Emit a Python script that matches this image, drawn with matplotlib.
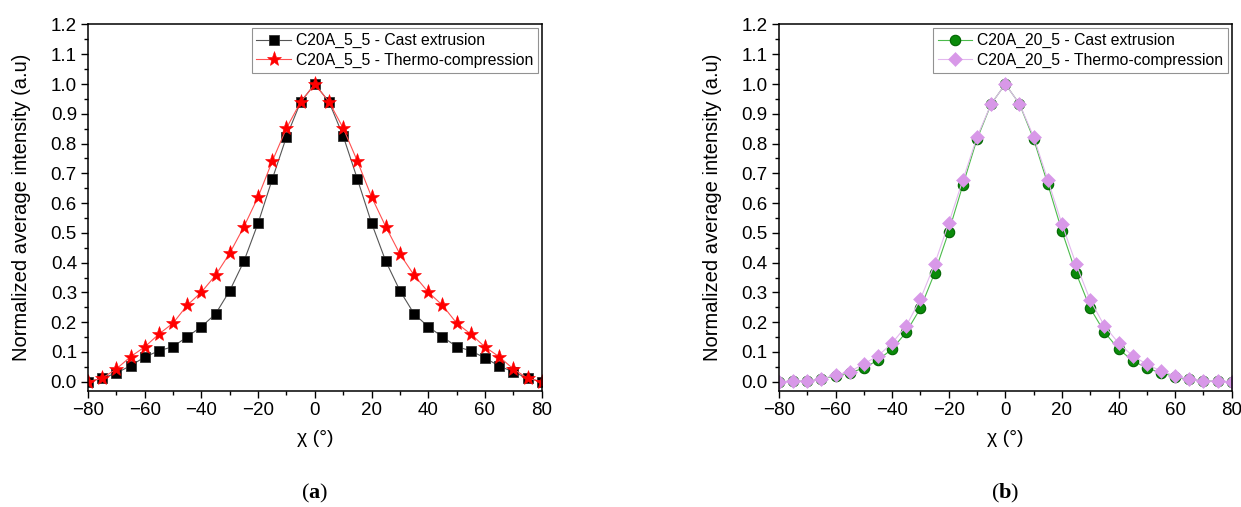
import matplotlib
matplotlib.use('Agg')
import matplotlib.pyplot as plt
import matplotlib.ticker as tck
import numpy as np

plt.rcParams['font.family'] = ['Liberation Sans', 'DejaVu Sans']
plt.rcParams['mathtext.fontset'] = 'custom'
plt.rcParams['mathtext.bf'] = 'Liberation Serif:bold'
plt.rcParams['mathtext.rm'] = 'Liberation Serif'

chi = [-80, -75, -70, -65, -60, -55, -50, -45, -40, -35, -30, -25, -20, -15, -10, -5,
       0, 5, 10, 15, 20, 25, 30, 35, 40, 45, 50, 55, 60, 65, 70, 75, 80]

# panel (a)
cast_5_5 = [0.0, 0.012, 0.029, 0.054, 0.083, 0.104, 0.118, 0.151, 0.185, 0.228, 0.306,
            0.405, 0.533, 0.681, 0.823, 0.94, 1.0, 0.94, 0.825, 0.681, 0.533, 0.405,
            0.306, 0.228, 0.185, 0.151, 0.118, 0.104, 0.08, 0.053, 0.033, 0.012, 0.0]
thermo_5_5 = [0.0, 0.012, 0.043, 0.084, 0.117, 0.16, 0.197, 0.257, 0.301, 0.358, 0.432,
              0.521, 0.621, 0.741, 0.852, 0.94, 1.0, 0.94, 0.852, 0.741, 0.621, 0.521,
              0.429, 0.358, 0.301, 0.257, 0.197, 0.16, 0.117, 0.084, 0.043, 0.012, 0.0]

# panel (b)
cast_20_5 = [0.0, 0.002, 0.002, 0.009, 0.02, 0.03, 0.046, 0.073, 0.11, 0.167, 0.247,
             0.365, 0.504, 0.661, 0.815, 0.933, 1.0, 0.933, 0.815, 0.664, 0.506, 0.365,
             0.247, 0.167, 0.11, 0.071, 0.046, 0.03, 0.017, 0.008, 0.003, 0.002, 0.0]
thermo_20_5 = [0.0, 0.002, 0.002, 0.009, 0.023, 0.034, 0.06, 0.087, 0.13, 0.188, 0.278,
               0.395, 0.533, 0.678, 0.822, 0.933, 1.0, 0.933, 0.823, 0.678, 0.53, 0.395,
               0.274, 0.188, 0.13, 0.087, 0.059, 0.036, 0.02, 0.009, 0.002, 0.003, 0.0]

fig = plt.figure(figsize=(12.41, 5.07), dpi=100)
ax1 = fig.add_axes([0.0709, 0.2294, 0.3656, 0.7223])
ax2 = fig.add_axes([0.6277, 0.2294, 0.3648, 0.7223])

ax1.plot(chi, cast_5_5, color='#555555', linewidth=0.8, marker='s', markersize=7.5,
         markerfacecolor='black', markeredgecolor='#333333', markeredgewidth=0.6,
         label='C20A_5_5 - Cast extrusion')
ax1.plot(chi, thermo_5_5, color='#ff5050', linewidth=0.8, marker='*', markersize=11,
         markerfacecolor='red', markeredgecolor='red', markeredgewidth=0.4,
         label='C20A_5_5 - Thermo-compression')

ax2.plot(chi, cast_20_5, color='#4cbb4c', linewidth=0.8, marker='o', markersize=7.5,
         markerfacecolor='#0a8a0a', markeredgecolor='#006400', markeredgewidth=0.8,
         label='C20A_20_5 - Cast extrusion')
ax2.plot(chi, thermo_20_5, color='#e3b8ee', linewidth=0.8, marker='D', markersize=7.5,
         markerfacecolor='#d898e8', markeredgecolor='#d898e8', markeredgewidth=0.4,
         label='C20A_20_5 - Thermo-compression')

for ax, tag in [(ax1, 'a'), (ax2, 'b')]:
    ax.set_xlim(-80, 80)
    ax.set_ylim(-0.03, 1.2)
    ax.xaxis.set_major_locator(tck.MultipleLocator(20))
    ax.xaxis.set_minor_locator(tck.MultipleLocator(10))
    ax.yaxis.set_major_locator(tck.MultipleLocator(0.1))
    ax.yaxis.set_minor_locator(tck.MultipleLocator(0.05))
    ax.yaxis.set_major_formatter(tck.FormatStrFormatter('%.1f'))
    ax.xaxis.set_major_formatter(tck.FuncFormatter(
        lambda v, p: ('\u2212%d' % -v) if v < 0 else '%d' % v))
    ax.tick_params(which='major', direction='out', length=5, width=1.0,
                   labelsize=13.5, pad=3, top=False, right=False)
    ax.tick_params(which='minor', direction='out', length=3, width=1.0,
                   top=False, right=False)
    for s in ax.spines.values():
        s.set_linewidth(1.1)
    ax.set_xlabel('\u03c7 (\u00b0)', fontsize=14, labelpad=8)
    ax.set_ylabel('Normalized average intensity (a.u)', fontsize=14.5, labelpad=14)
    leg = ax.legend(loc='upper right', bbox_to_anchor=(1, 1), borderaxespad=0.25,
                    fontsize=11.3, frameon=True, fancybox=False, handlelength=2.2,
                    handletextpad=0.3, labelspacing=0.3, borderpad=0.3)
    leg.get_frame().set_edgecolor('#777777')
    leg.get_frame().set_linewidth(0.8)
    ax.text(0.5, -0.28, '($\\mathbf{%s}$)' % tag, transform=ax.transAxes,
            ha='center', va='center', fontsize=16, family='Liberation Serif')

fig.savefig('out.png', dpi=100)
